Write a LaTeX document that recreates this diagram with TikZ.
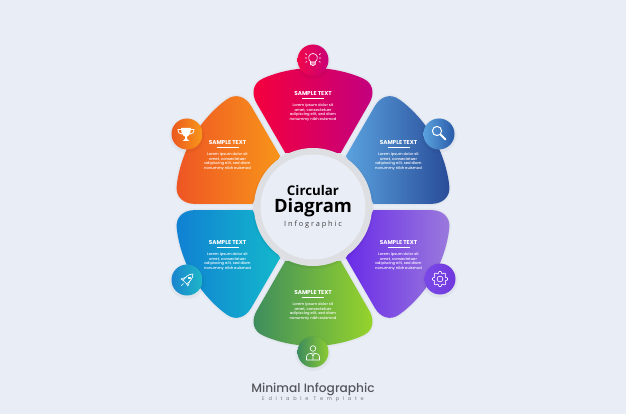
\documentclass[tikz,border=0pt]{standalone}
\usepackage{fontspec}
\setmainfont{Poppins}
\newfontfamily\popm{Poppins Medium}
\newfontfamily\opensans{Open Sans}
\newfontfamily\spaced[LetterSpace=25]{Open Sans}
\newfontfamily\spacedp[LetterSpace=75]{Poppins}
\usetikzlibrary{shadings}
\definecolor{bg}{HTML}{E9EDF6}
\definecolor{ringc}{HTML}{DEDFE3}
\definecolor{titlec}{HTML}{55565C}
\newcommand{\petalpath}{(-27.7,-54) -- (-56.5,-104) .. controls (-62,-114) and (-60,-124) .. (-50,-128.5) .. controls (-37,-134.5) and (-18,-139) .. (0,-139) .. controls (18,-139) and (37,-134.5) .. (50,-128.5) .. controls (60,-124) and (62,-114) .. (56.5,-104) -- (27.7,-54) -- cycle}
\newcommand{\petal}[3]{%
  \definecolor{ca}{HTML}{#2}\definecolor{cb}{HTML}{#3}%
  \begin{scope}[shift={(313,207)},rotate=#1]
    \foreach \w in {4,2}{\draw[black,opacity=.015,line width=\w pt,line join=round] \petalpath;}
    \shade[left color=ca,right color=cb] \petalpath;
  \end{scope}}
\tikzset{
  head/.style={font=\fontsize{5.7pt}{6pt}\selectfont\bfseries,text=white,inner sep=0pt},
  body/.style={font=\popm\fontsize{3.75pt}{4.6pt}\selectfont,text=white,align=center,inner sep=0pt,anchor=north},
  rulel/.style={white,line width=.6pt},
  badge/.style={circle,minimum size=31pt,inner sep=0pt},
  ico/.style={white,line width=.65pt,line cap=round,line join=round}
}
\newcommand{\block}[3]{%
  \node[head] (h#3) at (#1,#2) {SAMPLE TEXT};
  \draw[rulel] ([xshift=-11pt,yshift=-5pt]h#3.center) -- ([xshift=11pt,yshift=-5pt]h#3.center);
  \node[body] (b#3) at (#1,#2+10.5) {Lorem ipsum dolor sit\\amet, consectetuer\\adipiscing elit, sed diam\\nonummy nibh euismod};}
\newcommand{\badge}[5]{%
  \definecolor{ca}{HTML}{#3}\definecolor{cb}{HTML}{#4}%
  \foreach \r in {18,17}{\fill[black,opacity=.02] (#1,#2+1.5) circle (\r pt);}
  \node[badge,left color=ca,right color=cb] (#5) at (#1,#2) {};}
\begin{document}
\begin{tikzpicture}[x=1pt,y=-1pt]
\useasboundingbox (0,0) rectangle (626,414);
\fill[bg] (0,0) rectangle (626,414);
\petal{0}{F5003C}{C20080}
\petal{-60}{5AA2DE}{284B98}
\petal{-120}{6A2CE8}{9A7ADC}
\petal{-180}{3C8C5E}{98D52A}
\petal{-240}{1080D2}{14B8CC}
\petal{-300}{EE5524}{F8951A}
% centre
\foreach \r in {61,60}{\fill[black,opacity=.025] (313,208) circle (\r pt);}
\node[circle,fill=ringc,minimum size=118pt,inner sep=0pt] (ring) at (313,207) {};
\node[circle,fill=bg,minimum size=105pt,inner sep=0pt] (disc) at (313,207) {};
\node[font=\opensans\bfseries\fontsize{13.3pt}{14pt}\selectfont,text=black,inner sep=0pt] (t1) at (313,191) {Circular};
\node[font=\opensans\bfseries\fontsize{18.4pt}{19pt}\selectfont,text=black,inner sep=0pt] (t2) at (313,208) {Diagram};
\node[font=\spaced\fontsize{7.4pt}{8pt}\selectfont,text=black!75,inner sep=0pt] (t3) at (313,225) {Infographic};
% texts
\block{313}{93}{a}
\block{398.5}{142}{b}
\block{398.5}{242}{c}
\block{313}{292}{d}
\block{227.5}{242}{e}
\block{227.5}{142}{f}
% badges
\badge{313}{60}{F0064A}{C80078}{ba}
\badge{439}{134}{5AA2DE}{2A5AA8}{bb}
\badge{440}{279}{7A48E8}{7038DC}{bc}
\badge{313}{352}{3C8C5E}{8CCB32}{bd}
\badge{187}{280}{1A84CE}{1EB8C8}{be}
\badge{187}{134}{EC581E}{F8981A}{bf}
% bulb
\begin{scope}[ico,shift={(313,59)}]
  \draw (-2.2,3) .. controls (-6,0) and (-4.5,-5.5) .. (0,-5.5) .. controls (4.5,-5.5) and (6,0) .. (2.2,3) -- cycle;
  \fill[white,opacity=.45] (-2.2,3) -- (2.2,3) -- (2.2,5.5) .. controls (1.5,7) and (-1.5,7) .. (-2.2,5.5) -- cycle;
  \draw (-2.2,5.5) .. controls (-1.5,7) and (1.5,7) .. (2.2,5.5) -- (2.2,3);
  \draw (-2.2,5.5) -- (-2.2,3);
  \draw (-6.3,-4.5) -- (-7.5,-5.3) (6.3,-4.5) -- (7.5,-5.3) (-6.3,-1) -- (-7.8,-1) (6.3,-1) -- (7.8,-1) (-6,2.5) -- (-7.3,3.3) (6,2.5) -- (7.3,3.3);
\end{scope}
% magnifier
\begin{scope}[ico,shift={(439,133)}]
  \draw[line width=1pt] (-2,-2) circle (4.6pt);
  \draw[line width=2pt] (1.5,1.5) -- (6.5,6.5);
\end{scope}
% gear
\begin{scope}[ico,shift={(440,279)}]
  \draw (0,0) circle (2.9pt);
  \draw[rounded corners=.5pt]
    (-9:7.6pt) -- (9:7.6pt) -- (16:5.7pt) -- (29:5.7pt) -- (36:7.6pt) -- (54:7.6pt) -- (61:5.7pt) -- (74:5.7pt)
    -- (81:7.6pt) -- (99:7.6pt) -- (106:5.7pt) -- (119:5.7pt) -- (126:7.6pt) -- (144:7.6pt) -- (151:5.7pt) -- (164:5.7pt)
    -- (171:7.6pt) -- (189:7.6pt) -- (196:5.7pt) -- (209:5.7pt) -- (216:7.6pt) -- (234:7.6pt) -- (241:5.7pt) -- (254:5.7pt)
    -- (261:7.6pt) -- (279:7.6pt) -- (286:5.7pt) -- (299:5.7pt) -- (306:7.6pt) -- (324:7.6pt) -- (331:5.7pt) -- (344:5.7pt) -- cycle;
\end{scope}
% person
\begin{scope}[ico,shift={(313,353)}]
  \draw (0,-4.5) circle (2.8pt);
  \draw (-6.5,7) -- (-6.5,4) .. controls (-6.5,1) and (-3,0) .. (0,0) .. controls (3,0) and (6.5,1) .. (6.5,4) -- (6.5,7) -- cycle;
  \draw (-1.5,0.5) -- (0,3) -- (1.5,0.5) (0,3) -- (0,7);
\end{scope}
% rocket
\begin{scope}[ico,shift={(187,280)},rotate=-45]
  \draw (0,-8.5) .. controls (3.5,-5) and (3,0) .. (2.5,3) -- (-2.5,3) .. controls (-3,0) and (-3.5,-5) .. (0,-8.5);
  \draw (-2.7,-1) -- (-5,3.5) -- (-2.5,3) (2.7,-1) -- (5,3.5) -- (2.5,3);
  \draw (0,-3) circle (1.1pt);
  \draw (0,5) -- (0,8);
\end{scope}
% trophy
\begin{scope}[shift={(186,134)}]
  \fill[white] (-5,-6) -- (5,-6) .. controls (5,-1) and (3,2) .. (1,2.5) -- (1,5) -- (3.5,7) -- (-3.5,7) -- (-1,5) -- (-1,2.5) .. controls (-3,2) and (-5,-1) .. (-5,-6) -- cycle;
  \draw[white,line width=.8pt] (-5,-4.5) -- (-8,-4.5) .. controls (-8,-1) and (-6,0) .. (-4,0) (5,-4.5) -- (8,-4.5) .. controls (8,-1) and (6,0) .. (4,0);
\end{scope}
% footer
\node[font=\popm\fontsize{12.2pt}{13pt}\selectfont,text=titlec,inner sep=0pt] (f1) at (313,389) {Minimal Infographic};
\node[font=\spacedp\fontsize{5pt}{6pt}\selectfont,text=titlec!80,inner sep=0pt] (f2) at (313,399.5) {Editable Template};
\end{tikzpicture}
\end{document}
